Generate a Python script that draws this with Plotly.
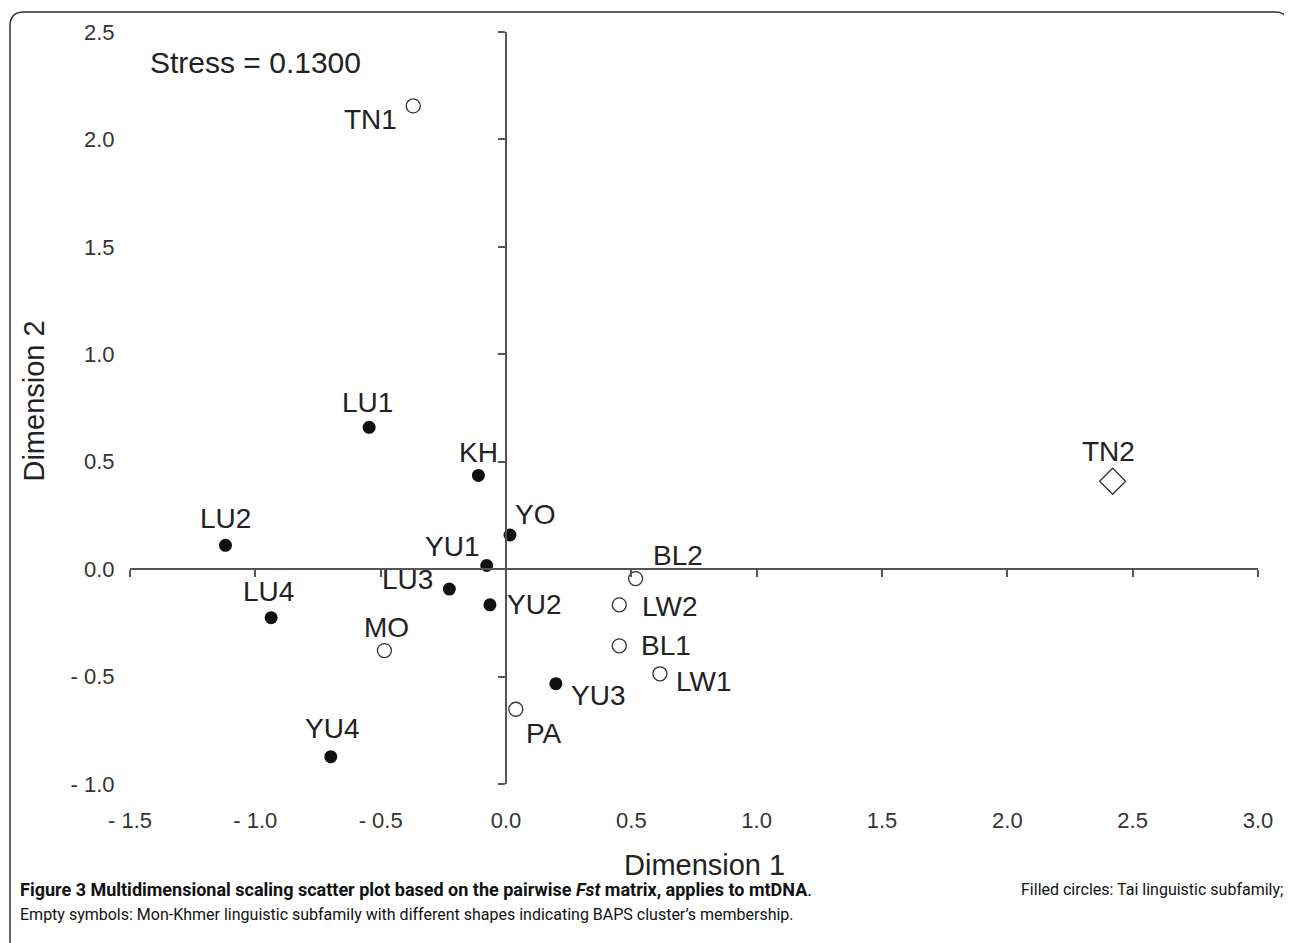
import plotly.graph_objects as go

# ---------------- data ----------------
tai_names = ["LU1", "KH", "LU2", "YO", "YU1", "LU3", "YU2", "LU4", "YU3", "YU4"]
tai_x = [-0.546, -0.110, -1.119, 0.016, -0.077, -0.226, -0.064, -0.937, 0.199, -0.699]
tai_y = [0.660, 0.436, 0.111, 0.159, 0.017, -0.093, -0.166, -0.226, -0.533, -0.873]

mk_names = ["TN1", "MO", "BL2", "LW2", "BL1", "LW1", "PA"]
mk_x = [-0.370, -0.485, 0.517, 0.452, 0.452, 0.614, 0.039]
mk_y = [2.156, -0.379, -0.044, -0.166, -0.357, -0.487, -0.652]

dia_names = ["TN2"]
dia_x = [2.42]
dia_y = [0.409]

x_ticks = [-1.5, -1.0, -0.5, 0.0, 0.5, 1.0, 1.5, 2.0, 2.5, 3.0]
x_ticktext = ["- 1.5", "- 1.0", "- 0.5", "0.0", "0.5", "1.0", "1.5", "2.0", "2.5", "3.0"]
y_ticks = [-1.0, -0.5, 0.0, 0.5, 1.0, 1.5, 2.0, 2.5]
y_ticktext = ["- 1.0", "- 0.5", "0.0", "0.5", "1.0", "1.5", "2.0", "2.5"]

stress_text = "Stress = 0.1300"
x_title = "Dimension 1"
y_title = "Dimension 2"

# label offsets (pixels) – style only
label_offsets = {
    "TN1": (-43, -14), "LU1": (-2, 25), "KH": (0, 23), "LU2": (0, 27),
    "YO": (25, 20), "YU1": (-35, 19), "LU3": (-42, 10), "YU2": (44, 0),
    "LU4": (-3, 26), "MO": (2, 23), "BL2": (42, 23), "LW2": (51, -2),
    "BL1": (47, 0), "LW1": (44, -8), "YU3": (42, -12), "PA": (28, -24),
    "YU4": (1, 28), "TN2": (-4, 30),
}

# ---------------- layout geometry ----------------
OFF = 8                      # page body margin
W, H = 1292 - OFF, 943 - OFF
PL, PR, PT, PB = 130, 1258, 29, 784   # plot area in page pixels
ML, MT = PL - OFF, PT - OFF
MR, MB = (W + OFF) - PR, (H + OFF) - PB
PW, PH = PR - PL, PB - PT
XR = [-1.5, 3.0]
YR = [-1.0, 2.5]


def px(xp):
    return (xp - PL) / PW


def py(yp):
    return (PB - yp) / PH


FONT = "Liberation Sans, Arial, sans-serif"
TXT = "#222222"
AX = "#555555"

fig = go.Figure()

fig.add_trace(go.Scatter(
    x=tai_x, y=tai_y, mode="markers", name="Tai",
    marker=dict(symbol="circle", size=13, color="#111111", line=dict(width=0)),
    showlegend=False, hoverinfo="text", text=tai_names))
fig.add_trace(go.Scatter(
    x=mk_x, y=mk_y, mode="markers", name="Mon-Khmer",
    marker=dict(symbol="circle-open", size=14, color="#333333", line=dict(width=1.3)),
    showlegend=False, hoverinfo="text", text=mk_names))
fig.add_trace(go.Scatter(
    x=dia_x, y=dia_y, mode="markers", name="Mon-Khmer (diamond)",
    marker=dict(symbol="diamond-open", size=20, color="#333333", line=dict(width=1.3)),
    showlegend=False, hoverinfo="text", text=dia_names))
# dummy trace for the crossing axes
fig.add_trace(go.Scatter(x=[], y=[], xaxis="x2", yaxis="y2", showlegend=False, hoverinfo="skip"))

annotations = []
for names, xs, ys in [(tai_names, tai_x, tai_y), (mk_names, mk_x, mk_y), (dia_names, dia_x, dia_y)]:
    for n, xv, yv in zip(names, xs, ys):
        dx, dy = label_offsets[n]
        annotations.append(dict(
            x=xv, y=yv, xref="x", yref="y", text=n, showarrow=False,
            xshift=dx, yshift=dy, xanchor="center", yanchor="middle",
            font=dict(family=FONT, size=28, color=TXT)))

annotations.append(dict(x=px(148), y=py(60), xref="paper", yref="paper", text=stress_text,
                        showarrow=False, xanchor="left", yanchor="middle",
                        font=dict(family=FONT, size=30, color=TXT)))
annotations.append(dict(x=px(704), y=py(865), xref="paper", yref="paper", text=x_title,
                        showarrow=False, xanchor="center", yanchor="middle",
                        font=dict(family=FONT, size=29, color=TXT)))
annotations.append(dict(x=px(34), y=py(400), xref="paper", yref="paper", text=y_title,
                        showarrow=False, xanchor="center", yanchor="middle", textangle=-90,
                        font=dict(family=FONT, size=29, color=TXT)))

CAP = "Roboto, Open Sans, sans-serif"
annotations.append(dict(
    x=px(18), y=py(890), xref="paper", yref="paper",
    text="<b>Figure 3 Multidimensional scaling scatter plot based on the pairwise <i>Fst</i> matrix, applies to mtDNA</b>.",
    showarrow=False, xanchor="left", yanchor="middle",
    font=dict(family=CAP, size=18, color="#111111")))
annotations.append(dict(
    x=px(1285), y=py(890), xref="paper", yref="paper",
    text="Filled circles: Tai linguistic subfamily;",
    showarrow=False, xanchor="right", yanchor="middle",
    font=dict(family=CAP, size=16, color="#111111")))
annotations.append(dict(
    x=px(18), y=py(915), xref="paper", yref="paper",
    text="Empty symbols: Mon-Khmer linguistic subfamily with different shapes indicating BAPS cluster\u2019s membership.",
    showarrow=False, xanchor="left", yanchor="middle",
    font=dict(family=CAP, size=16, color="#111111")))

# rounded frame
L, R, T, B = px(10), px(1289), py(9), py(960)
rx, ry = 14 / PW, 14 / PH
frame_path = (f"M {L},{B} L {L},{T - ry} Q {L},{T} {L + rx},{T} "
              f"L {R - rx},{T} Q {R},{T} {R},{T - ry} L {R},{B}")

fig.update_layout(
    width=W, height=H, autosize=False,
    margin=dict(l=ML, r=MR, t=MT, b=MB, pad=0),
    paper_bgcolor="white", plot_bgcolor="white",
    xaxis=dict(range=XR, domain=[0, 1], showgrid=False, zeroline=False, showline=False,
               tickmode="array", tickvals=x_ticks, ticktext=x_ticktext,
               ticks="outside", ticklen=17, tickcolor="rgba(0,0,0,0)",
               tickfont=dict(family=FONT, size=22, color="#333333")),
    yaxis=dict(range=YR, domain=[0, 1], showgrid=False, zeroline=False, showline=False,
               tickmode="array", tickvals=y_ticks, ticktext=y_ticktext,
               ticks="outside", ticklen=10, tickcolor="rgba(0,0,0,0)",
               tickfont=dict(family=FONT, size=22, color="#333333")),
    xaxis2=dict(range=XR, overlaying="x", anchor="free",
                position=(0 - YR[0]) / (YR[1] - YR[0]),
                showgrid=False, zeroline=False, showline=True, linecolor=AX, linewidth=1.5,
                tickmode="array", tickvals=x_ticks, ticks="outside", ticklen=7,
                tickcolor=AX, tickwidth=1.5, showticklabels=False),
    yaxis2=dict(range=YR, overlaying="y", anchor="free",
                position=(0 - XR[0]) / (XR[1] - XR[0]),
                showgrid=False, zeroline=False, showline=True, linecolor=AX, linewidth=1.5,
                tickmode="array", tickvals=y_ticks, ticks="outside", ticklen=7,
                tickcolor=AX, tickwidth=1.5, showticklabels=False),
    annotations=annotations,
    shapes=[dict(type="path", xref="paper", yref="paper", path=frame_path,
                 line=dict(color="#333333", width=1.5), layer="above")],
)

fig.write_html("out.html")
